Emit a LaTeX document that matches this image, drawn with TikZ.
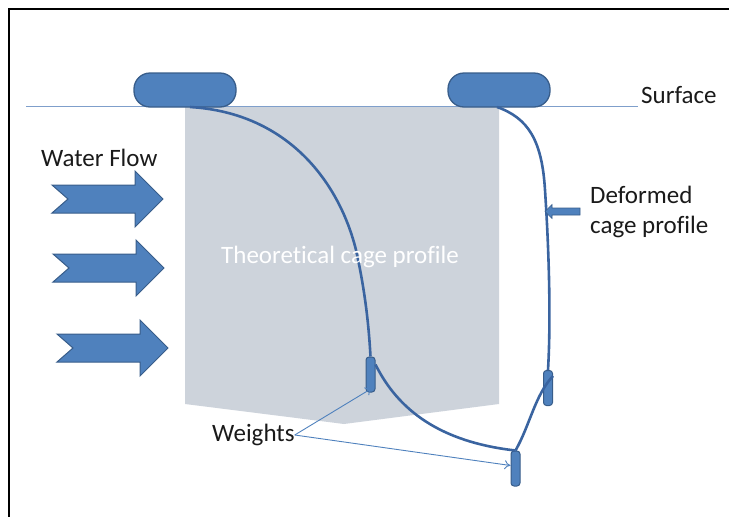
\documentclass[tikz,border=0pt]{standalone}
\usepackage{fontspec}
\setmainfont{Carlito}[Ligatures={NoCommon}]
\usetikzlibrary{arrows.meta}
\definecolor{floatblue}{HTML}{4F81BD}
\definecolor{floatedge}{HTML}{385D8A}
\definecolor{cageline}{HTML}{3A64A0}
\definecolor{cagegray}{HTML}{CDD3DB}
\definecolor{surfline}{HTML}{7F9FCB}
\definecolor{txt}{HTML}{1A1A1A}
\tikzset{
  floatbox/.style={draw=floatedge, fill=floatblue, line width=1.3pt, rounded corners=16pt, minimum width=102pt, minimum height=34pt, inner sep=0pt},
  weightbox/.style={draw=floatedge, fill=floatblue, line width=1pt, rounded corners=3pt, minimum width=9pt, minimum height=35pt, inner sep=0pt},
  flowarrow/.style={draw=floatedge, fill=floatblue, line width=1pt, line join=miter},
  cage/.style={draw=cageline, line width=2.6pt},
  callout/.style={draw=floatblue, line width=0.9pt, -{To[length=6pt,width=9pt]}},
  lbl/.style={font=\fontsize{25}{30}\selectfont, text=txt, inner sep=0pt},
}
\begin{document}
\begin{tikzpicture}[x=1pt,y=-1pt]
\useasboundingbox (0,0) rectangle (729,517);
% frame
\draw[black, line width=2pt] (9,517) -- (9,9) -- (729,9);
% theoretical cage area
\fill[cagegray] (185,107) -- (499,107) -- (499,404) -- (344,424) -- (185,404) -- cycle;
% surface line
\coordinate (sL) at (26,106.5);
\coordinate (sR) at (638,106.5);
\draw[surfline, line width=1.2pt] (sL) -- (sR);
% floats
\node[floatbox] (f1) at (185,90) {};
\node[floatbox] (f2) at (499,90) {};
% weights
\node[weightbox] (w1) at (370.5,374.5) {};
\node[weightbox] (w2) at (548,388) {};
\node[weightbox] (w3) at (515.5,468.5) {};
% flow arrows
\foreach \ax/\ay in {52/199, 53/268, 57/348}{
  \filldraw[flowarrow, shift={(\ax,\ay)}] (0,-14) -- (83,-14) -- (83,-28) -- (111,0) -- (83,28) -- (83,14) -- (0,14) -- (16,0) -- cycle;
}
% cage lines
\draw[cage] (190,107) .. controls (290,113) and (340,185) .. (356,250)
  .. controls (366,295) and (369,330) .. (w1.north);
\draw[cage] ([yshift=-8pt]w1.north east) .. controls (398,410) and (440,442) .. (w3.north);
\draw[cage] (w3.north) .. controls (530,425) and (535,395) .. ([yshift=-6pt]w2.north east);
\draw[cage] (497,107) .. controls (528,118) and (542,140) .. (545,190)
  .. controls (549,250) and (551,320) .. (w2.north);
% deformed arrow
\filldraw[flowarrow, line width=0.6pt] (545,211.5) -- (552,204.5) -- (552,208) -- (580,208) -- (580,215) -- (552,215) -- (552,218.5) -- cycle;
% labels
\node[lbl, anchor=west] (surf) at (641,95) {Surface};
\node[lbl, anchor=west] (wf) at (41,158) {Water Flow};
\node[lbl, anchor=west, align=left] (def) at (590,212) {Deformed\\cage profile};
\node[lbl, text=white, anchor=west] (theo) at (221,257) {Theoretical cage profile};
\node[lbl, anchor=west] (wt) at (212,435) {Weights};
% callouts
\draw[callout] (wt.east) -- ([xshift=1pt,yshift=4pt]w1.south);
\draw[callout] (wt.east) -- ([yshift=3pt]w3.west);
\end{tikzpicture}
\end{document}
